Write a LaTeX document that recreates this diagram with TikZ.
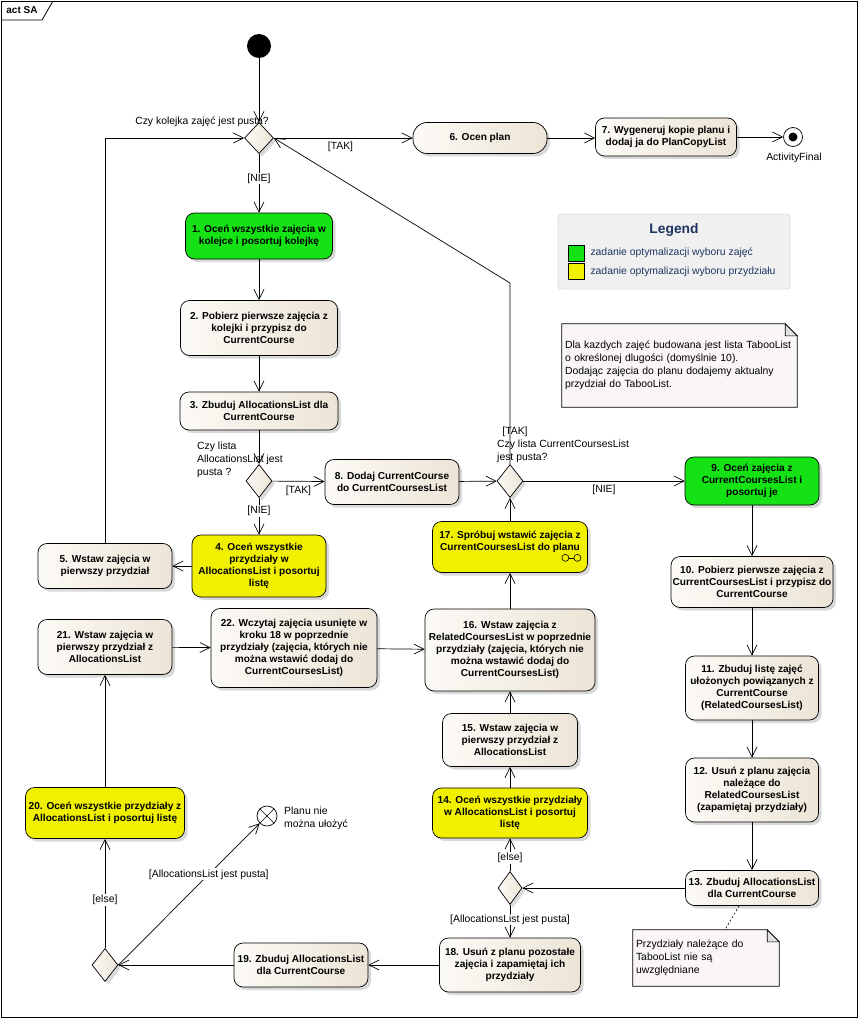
\documentclass[tikz,border=0pt]{standalone}
\usepackage{fontspec}
\setmainfont{Liberation Sans}
\usetikzlibrary{shapes.geometric, arrows.meta, shadows, positioning, backgrounds}
\definecolor{actleft}{RGB}{252,250,246}
\definecolor{actright}{RGB}{236,228,214}
\definecolor{actgreen}{RGB}{20,226,20}
\definecolor{actyellow}{RGB}{240,240,0}
\definecolor{notefill}{RGB}{249,245,249}
\definecolor{legendfill}{RGB}{240,240,240}
\definecolor{legendline}{RGB}{218,218,218}
\definecolor{legendblue}{RGB}{30,52,98}
\newcommand{\actfont}{\fontsize{10.1}{12}\selectfont\bfseries}
\newcommand{\lblfont}{\fontsize{10.4}{13}\selectfont}
\tikzstyle{action} = [rectangle, rounded corners=9pt, draw=black, line width=0.7pt, align=center, font=\actfont, left color=actleft, right color=actright, inner sep=1pt, drop shadow={shadow xshift=3pt, shadow yshift=-3pt, opacity=0.3}]
\tikzstyle{greenaction} = [action, left color=actgreen, right color=actgreen]
\tikzstyle{yellowaction} = [action, left color=actyellow, right color=actyellow]
\tikzstyle{decision} = [diamond, draw=black, line width=0.7pt, left color=actleft, right color=actright, minimum width=26pt, minimum height=33pt, inner sep=0pt, drop shadow={shadow xshift=3pt, shadow yshift=-3pt, opacity=0.3}]
\tikzstyle{initial} = [circle, fill=black, minimum size=24pt, inner sep=0pt]
\tikzstyle{final} = [circle, draw=black, fill=white, line width=0.7pt, minimum size=19pt, inner sep=0pt]
\tikzstyle{flowfinal} = [circle, draw=black, fill=white, line width=0.7pt, minimum size=20pt, inner sep=0pt]
\tikzstyle{guard} = [font=\lblfont, inner sep=1pt]
\tikzstyle{note} = [font=\lblfont, align=left, inner xsep=3pt, inner ysep=2pt]
\tikzstyle{legendbox} = [rectangle, rounded corners=3pt, draw=legendline, fill=legendfill, line width=0.7pt]
\tikzstyle{keybox} = [rectangle, draw=black, line width=0.6pt, minimum width=16pt, minimum height=16pt, inner sep=0pt]
\tikzstyle{arrow} = [line width=0.7pt, -{Straight Barb[length=10pt,width=10pt]}]
\tikzstyle{anchorline} = [line width=0.6pt, dash pattern=on 2pt off 2pt]

\begin{document}
\begin{tikzpicture}[x=1pt, y=-1pt]
\useasboundingbox (0,0) rectangle (858,1019);
\draw[line width=0.8pt] (1,1) rectangle (857,1017);
\draw[line width=0.8pt] (1,20) -- (42,20) -- (53,1);
\node (frametitle) [font=\fontsize{10}{12}\selectfont\bfseries] at (22,10) {act SA};

\node (start) [initial] at (259,46) {};
\node (d1) [decision, minimum width=29pt, minimum height=31pt] at (259,138) {};
\node (q1) [guard, anchor=east] at (270,122) {Czy kolejka zajęć jest pusta?};
\node (a6) [action, rounded corners=14pt, minimum width=134pt, minimum height=31pt] at (480,138) {6. Ocen plan};
\node (a7) [action, minimum width=141pt, minimum height=38pt] at (666,137) {7. Wygeneruj kopie planu i\\dodaj ja do PlanCopyList};
\node (fin) [final] at (793,137) {};
\node (findot) [circle, fill=black, minimum size=9pt, inner sep=0pt] at (fin) {};
\node (finlabel) [guard] at (794,158) {ActivityFinal};

\node (a1) [greenaction, minimum width=147pt, minimum height=46pt] at (259,236) {1. Oceń wszystkie zajęcia w\\kolejce i posortuj kolejkę};
\node (a2) [action, minimum width=157pt, minimum height=55pt] at (259,328) {2. Pobierz pierwsze zajęcia z\\kolejki i przypisz do\\CurrentCourse};
\node (a3) [action, minimum width=158pt, minimum height=38pt] at (259,411) {3. Zbuduj AllocationsList dla\\CurrentCourse};
\node (d2) [decision] at (259,481) {};
\node (q2) [guard, anchor=west, align=left] at (196,459.5) {Czy lista\\AllocationsList jest\\pusta ?};
\node (a8) [action, minimum width=134pt, minimum height=45pt] at (392,482) {8. Dodaj CurrentCourse\\do CurrentCoursesList};
\node (d3) [decision] at (510,481) {};
\node (tak3) [guard] at (515,432) {[TAK]};
\node (q3) [guard, anchor=west, align=left] at (496,451) {Czy lista CurrentCoursesList\\jest pusta?};
\coordinate (bendtak) at (510,283);
\node (a9) [greenaction, minimum width=134pt, minimum height=48pt] at (752,481) {9. Oceń zajęcia z\\CurrentCoursesList i\\posortuj je};
\node (a4) [yellowaction, minimum width=134pt, minimum height=62pt] at (259,566) {4. Oceń wszystkie\\przydziały w\\AllocationsList i posortuj\\listę};
\node (a5) [action, minimum width=134pt, minimum height=45pt] at (105,566) {5. Wstaw zajęcia w\\pierwszy przydział};

\node (a10) [action, minimum width=162pt, minimum height=51pt] at (752,582) {10. Pobierz pierwsze zajęcia z\\CurrentCoursesList i przypisz do\\CurrentCourse};
\node (a11) [action, minimum width=133pt, minimum height=64pt] at (752,688) {11. Zbuduj listę zajęć\\ułożonych powiązanych z\\CurrentCourse\\(RelatedCoursesList)};
\node (a12) [action, minimum width=133pt, minimum height=64pt] at (752,790) {12. Usuń z planu zajęcia\\należące do\\RelatedCoursesList\\(zapamiętaj przydziały)};
\node (a13) [action, minimum width=133pt, minimum height=35pt] at (752,888) {13. Zbuduj AllocationsList\\dla CurrentCourse};

\node (a17) [yellowaction, minimum width=155pt, minimum height=51pt] at (510,547) {17. Spróbuj wstawić zajęcia z\\CurrentCoursesList do planu\\\mbox{}};
\draw[line width=0.6pt] ([xshift=-19pt,yshift=15pt]a17.south east) -- ([xshift=-14pt,yshift=15pt]a17.south east);
\draw[line width=0.6pt, fill=actyellow] ([xshift=-22.5pt,yshift=15pt]a17.south east) circle (3.5pt);
\draw[line width=0.6pt, fill=actyellow] ([xshift=-10.5pt,yshift=15pt]a17.south east) circle (3.5pt);
\node (a16) [action, minimum width=170pt, minimum height=82pt] at (510,650) {16. Wstaw zajęcia z\\RelatedCoursesList w poprzednie\\przydziały (zajęcia, których nie\\można wstawić dodaj do\\CurrentCoursesList)};
\node (a15) [action, minimum width=135pt, minimum height=53pt] at (510,740) {15. Wstaw zajęcia w\\pierwszy przydział z\\AllocationsList};
\node (a14) [yellowaction, minimum width=155pt, minimum height=50pt] at (510,813) {14. Oceń wszystkie przydziały\\w AllocationsList i posortuj\\listę};
\node (d4) [decision, minimum width=24pt] at (510,888) {};
\node (a18) [action, minimum width=141pt, minimum height=54pt] at (510,965) {18. Usuń z planu pozostałe\\zajęcia i zapamiętaj ich\\przydziały};

\node (a19) [action, minimum width=134pt, minimum height=44pt] at (301,965) {19. Zbuduj AllocationsList\\dla CurrentCourse};
\node (d5) [decision] at (105,965) {};
\node (a20) [yellowaction, minimum width=159pt, minimum height=51pt] at (105,813) {20. Oceń wszystkie przydziały z\\AllocationsList i posortuj listę};
\node (a21) [action, minimum width=134pt, minimum height=55pt] at (105,647) {21. Wstaw zajęcia w\\pierwszy przydział z\\AllocationsList};
\node (a22) [action, minimum width=166pt, minimum height=79pt] at (294,648) {22. Wczytaj zajęcia usunięte w\\kroku 18 w poprzednie\\przydziały (zajęcia, których nie\\można wstawić dodaj do\\CurrentCoursesList)};
\node (stop) [flowfinal] at (267,816) {};
\draw[line width=0.6pt] (stop.north west) -- (stop.south east) (stop.north east) -- (stop.south west);
\node (stoplabel) [guard, anchor=west, align=left] at (283,818.5) {Planu nie\\można ułożyć};

\node (legend) [legendbox, minimum width=232pt, minimum height=75pt] at (674,251.5) {};
\node (legendtitle) [font=\fontsize{13.8}{16}\selectfont\bfseries, text=legendblue] at (674,230) {Legend};
\node (keygreen) [keybox, fill=actgreen] at (576,253) {};
\node (keyyellow) [keybox, fill=actyellow] at (576,271.5) {};
\node (keygreentext) [guard, text=legendblue, right=5pt of keygreen] {zadanie optymalizacji wyboru zajęć};
\node (keyyellowtext) [guard, text=legendblue, right=5pt of keyyellow] {zadanie optymalizacji wyboru przydziału};

\node (note1) [note, text width=229pt, minimum height=83pt] at (679.5,365.5) {Dla kazdych zajęć budowana jest lista TabooList\\o określonej dlugości (domyślnie 10).\\Dodając zajęcia do planu dodajemy aktualny\\przydział do TabooList.};
\node (note2) [note, text width=140pt, minimum height=56pt] at (706,958) {Przydziały należące do\\TabooList nie są\\uwzględniane};
\begin{scope}[on background layer]
\foreach \n in {note1, note2} {
\draw[line width=0.7pt, fill=notefill] (\n.north west) -- ([xshift=-12pt]\n.north east) -- ([yshift=-12pt]\n.north east) -- (\n.south east) -- (\n.south west) -- cycle;
\draw[line width=0.6pt, fill=black!12] ([xshift=-12pt]\n.north east) -- ([xshift=-12pt,yshift=-12pt]\n.north east) -- ([yshift=-12pt]\n.north east) -- cycle;
}
\end{scope}

\draw[arrow] (start) -- (d1);
\draw[arrow] (d1) -- node[guard, below=3pt, pos=.48] {[TAK]} (a6);
\draw[arrow] (a6.east) -- (a6.east -| a7.west);
\draw[arrow] (a7) -- (fin);
\draw[arrow] (d1) -- node[guard, fill=white, pos=.42] {[NIE]} (a1);
\draw[arrow] (a1) -- (a2);
\draw[arrow] (a2) -- (a3);
\draw[arrow] (a3) -- (d2);
\draw[arrow] (d2) -- node[guard, below=3pt, pos=.5] {[TAK]} (a8);
\draw[arrow] (d2) -- node[guard, fill=white, pos=.36] {[NIE]} (a4);
\draw[arrow] (a4) -- (a5);
\draw[arrow] (a5.north) |- (d1.west);
\draw[arrow] (a8) -- (d3);
\draw[arrow] (d3) -- node[guard, below=3pt, pos=.5] {[NIE]} (a9);
\draw[arrow] (d3.north) -- (bendtak) -- (d1.east);
\draw[arrow] (a9) -- (a10);
\draw[arrow] (a10) -- (a11);
\draw[arrow] (a11) -- (a12);
\draw[arrow] (a12) -- (a13);
\draw[arrow] (a13) -- (d4);
\draw[arrow] (d4) -- node[guard, fill=white, pos=.4] {[else]} (a14);
\draw[arrow] (d4) -- node[guard, fill=white, pos=.45] {[AllocationsList jest pusta]} (a18);
\draw[arrow] (a14) -- (a15);
\draw[arrow] (a15) -- (a16);
\draw[arrow] (a16) -- (a17);
\draw[arrow] (a17) -- (d3);
\draw[arrow] (a18) -- (a19);
\draw[arrow] (a19) -- (d5);
\draw[arrow] (d5) -- node[guard, fill=white, pos=.44] {[else]} (a20);
\draw[arrow] (d5.east) -- node[guard, fill=white, pos=.64] {[AllocationsList jest pusta]} (stop);
\draw[arrow] (a20) -- (a21);
\draw[arrow] (a21) -- (a22);
\draw[arrow] (a22) -- (a16);
\draw[anchorline] ([xshift=-13pt]a13.south) -- ([xshift=19pt]note2.north);
\end{tikzpicture}
\end{document}
